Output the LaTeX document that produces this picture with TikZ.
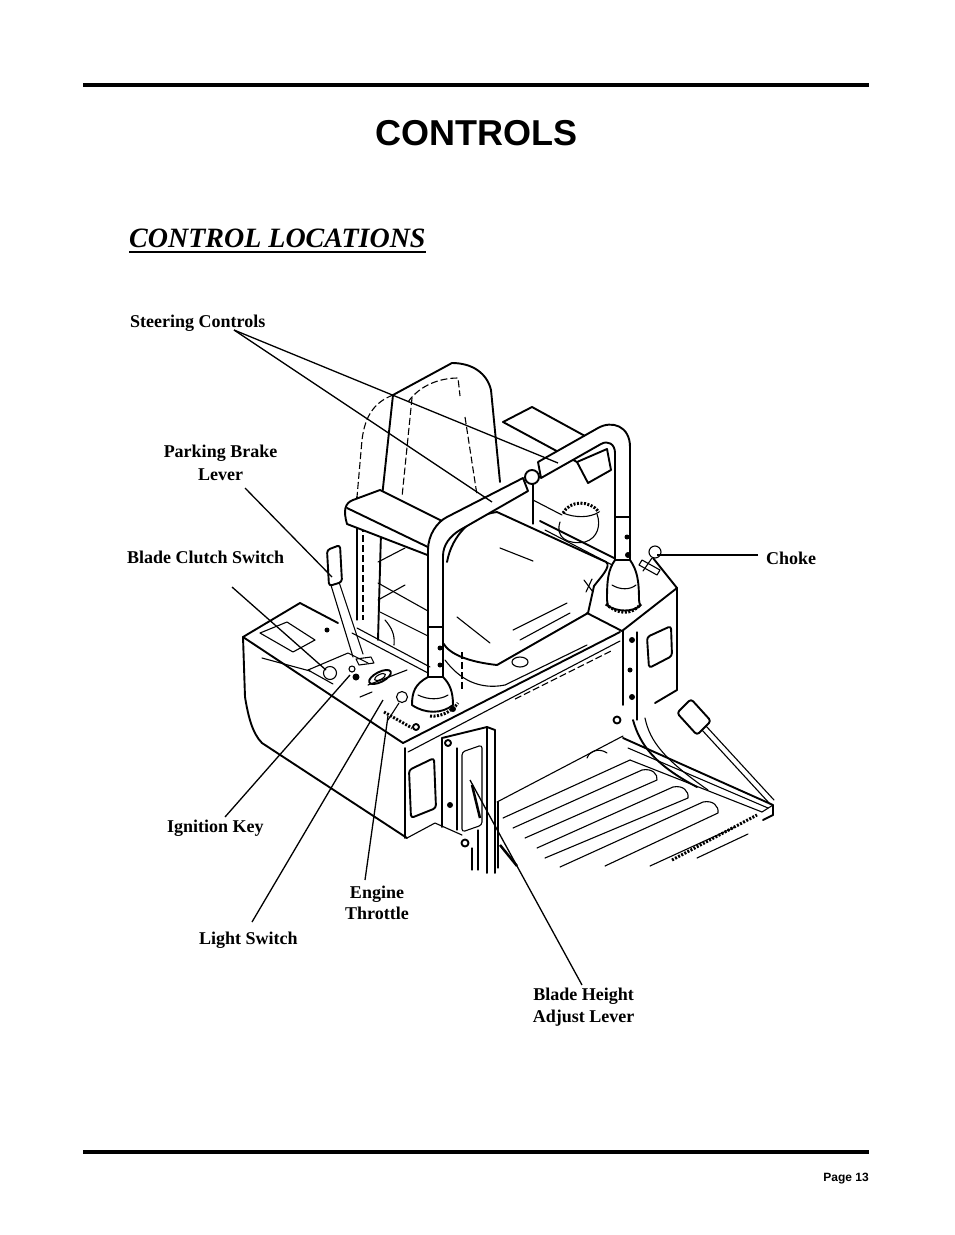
\documentclass[tikz,border=0pt]{standalone}
\usepackage{fontspec}
\setmainfont{Liberation Serif}
\newfontfamily\hsans{Liberation Sans}
\begin{document}
\begin{tikzpicture}[x=1pt,y=-1pt,
  ln/.style={line width=1.1pt, line cap=round, line join=round},
  tk/.style={line width=1.9pt, line cap=round, line join=round},
  hid/.style={line width=1.1pt, dash pattern=on 7pt off 3pt},
  hatch/.style={line width=3pt, dash pattern=on 2pt off 1.5pt},
  lead/.style={line width=1.3pt},
  lbl/.style={font=\fontsize{18}{22}\selectfont\bfseries, inner sep=0pt},
  wf/.style={fill=white}]
\useasboundingbox (0,0) rectangle (954,1235);
\fill[white] (0,0) rectangle (954,1235);
% rules
\draw[line width=3.5pt] (83,85) -- (869,85);
\draw[line width=3.8pt] (83,1152) -- (869,1152);
% titles
\node[font=\hsans\bfseries\fontsize{36}{40}\selectfont, anchor=base, inner sep=0pt] (title) at (476.5,145) {CONTROLS};
\node[font=\fontsize{28}{32}\selectfont\bfseries\itshape, anchor=base west, inner sep=0pt] (head) at (129,247) {CONTROL LOCATIONS};
\draw[line width=1.4pt] ([yshift=-5pt]head.base west) -- ([yshift=-5pt]head.base east);
\node[font=\hsans\bfseries\fontsize{12}{14}\selectfont, anchor=base east, inner sep=0pt] (page) at (869,1181) {Page 13};

% ---------- seat back ----------
\draw[tk] (382,497) -- (393,395) -- (452,363) .. controls (472,363) and (487,373) .. (491,390) -- (500,482);
\draw[hid] (393,395) .. controls (375,402) and (365,415) .. (362,440) -- (357,497);
\draw[hid] (412,398) -- (402,497);
\draw[hid] (465,417) -- (477,495);
\draw[hid] (408,402) .. controls (420,385) and (440,378) .. (458,378) -- (460,396);
\draw[tk] (382,497) -- (378,640);
\draw[ln] (357,497) -- (357,620);
\draw[hid] (363,525) -- (363,620);
% ---------- right armrest ----------
\draw[tk] (503,422) -- (532,407) -- (585,436);
\draw[tk] (503,422) -- (577,462);
\draw[tk,wf] (577,462) -- (607,449) -- (611,470) -- (588,483) -- cycle;
% rear frame and fuel cap
\draw[ln] (533,484) -- (533,524);
\draw[ln] (533,500) -- (562,515);
\draw[tk] (540,521) -- (622,562);
\draw[ln] (545,530) -- (620,569);
\draw[ln] (560,522) .. controls (555,537) and (567,545) .. (585,542) .. controls (598,538) and (601,525) .. (597,514);
\draw[hatch] (563,513) .. controls (570,500) and (590,500) .. (599,512);
\draw[ln] (563,513) .. controls (575,518) and (590,518) .. (599,512);
% ---------- seat cushion ----------
\fill[white] (447,562) .. controls (452,535) and (472,515) .. (497,512) -- (606,562) .. controls (612,566) and (600,578) .. (594,586) -- (588,613) -- (497,665) .. controls (470,662) and (450,655) .. (443,643) -- (443,562) -- cycle;
\draw[tk] (447,562) .. controls (452,535) and (472,515) .. (497,512) -- (606,562) .. controls (612,566) and (600,578) .. (594,586) -- (588,613) -- (497,665) .. controls (470,662) and (450,655) .. (443,643);
\draw[hid] (443,562) -- (443,643);
\draw[ln] (500,548) -- (533,561);
\draw[ln] (513,630) -- (567,603);
\draw[ln] (457,617) -- (490,643);
\draw[ln] (584,580) -- (593,592);
\draw[ln] (586,592) -- (592,579);
\draw[hid] (462,652) -- (462,690);
\draw[ln] (445,660) .. controls (460,680) and (480,690) .. (505,685) -- (587,645);
\draw[ln] (520,662) ellipse[x radius=8pt, y radius=5pt];
% ---------- left armrest ----------
\fill[white] (353,500) -- (380,490) -- (450,525) -- (432,550) -- (430,556) -- (347,524) .. controls (343,512) and (345,503) .. (353,500) -- cycle;
\draw[tk] (353,500) -- (380,490) -- (450,525);
\draw[tk] (347,508) -- (432,549);
\draw[tk] (347,524) -- (430,556);
\draw[tk] (353,500) .. controls (345,503) and (343,510) .. (347,524);
% frame below left armrest
\draw[ln] (378,562) -- (405,548);
\draw[ln] (378,583) -- (428,611);
\draw[ln] (378,600) -- (405,585);
\draw[ln] (380,612) -- (428,636);
\draw[ln] (385,620) .. controls (392,628) and (395,635) .. (394,645);
% ---------- right steering lever ----------
\draw[tk,wf] (630,560) -- (630,447) .. controls (630,426) and (612,420) .. (598,428) -- (538,462) -- (541,478) -- (601,444) .. controls (608,440) and (615,444) .. (615,453) -- (615,560) -- cycle;
\draw[ln] (615,517) -- (630,517);
\fill (627,537) circle[radius=2.5pt];
% ---------- left steering lever ----------
\draw[tk,wf] (428,677) -- (428,550) .. controls (428,535) and (437,522) .. (447,517) -- (523,478) -- (528,491) -- (460,530) .. controls (450,536) and (443,545) .. (443,556) -- (443,677) -- cycle;
\draw[ln] (428,627) -- (443,627);
\fill (440,648) circle[radius=2.5pt];
\fill (440,665) circle[radius=2.5pt];
\draw[tk,wf] (532,477) circle[radius=7pt];
% ---------- right console ----------
\draw[tk] (587,613) -- (622,631) -- (677,588) -- (653,558);
\draw[tk] (623,631) -- (623,705);
\draw[tk] (677,588) -- (677,690) -- (655,703);
\draw[tk, rounded corners=3pt] (647,637) -- (671,626) -- (672,656) -- (649,668) -- cycle;
\draw[ln] (637,632) -- (637,720);
\fill (632,640) circle[radius=3pt];
\fill (630,670) circle[radius=2.5pt];
\fill (632,697) circle[radius=3pt];
\draw[tk] (617,720) circle[radius=3.5pt];
\fill (628,555) circle[radius=3pt];
% right boot
\draw[tk,wf] (615,560) .. controls (608,570) and (607,580) .. (607,600) -- (608,606) .. controls (618,612) and (632,612) .. (640,606) -- (639,600) .. controls (639,580) and (637,570) .. (630,560) -- cycle;
\draw[hatch] (606,604) .. controls (618,615) and (632,615) .. (641,604);
\draw[ln] (612,585) .. controls (620,590) and (630,590) .. (636,585);
% choke
\draw[ln] (655,552) circle[radius=6pt];
\draw[ln] (652,558) -- (643,571);
\draw[ln] (642,560) -- (660,570) -- (657,575) -- (639,565) -- cycle;
% ---------- left console ----------
\draw[tk] (243,637) -- (300,603) -- (338,623);
\draw[tk] (243,637) -- (403,743);
\draw[ln] (262,658) -- (310,671);
\draw[tk] (243,637) -- (245,697) .. controls (248,715) and (252,733) .. (262,743) -- (407,838);
\draw[tk] (405,748) -- (405,838);
\draw[ln] (407,838) -- (435,823) -- (462,835);
\draw[ln] (260,633) -- (287,622) -- (315,640) -- (293,652) -- cycle;
\fill (327,630) circle[radius=2.5pt];
\draw[ln] (352,633) -- (428,673);
\draw[ln] (357,628) -- (430,667);
% control panel
\draw[ln] (308,670) -- (348,653) -- (368,663);
\draw[ln] (308,670) -- (333,684);
\draw[ln] (368,685) -- (407,670);
\draw[ln] (360,697) -- (372,692);
\draw[ln] (330,673) circle[radius=6.5pt];
\fill (356,677) circle[radius=3.5pt];
\draw[ln] (352,669) circle[radius=3pt];
\draw[tk] (380,677) ellipse[x radius=12pt, y radius=5pt, rotate=27];
\draw[ln] (380,677) ellipse[x radius=6pt, y radius=2.5pt, rotate=27];
\draw[ln] (356,659) -- (371,657) -- (374,663) -- (359,665) -- cycle;
% parking brake lever
\draw[ln] (330,582) -- (353,657);
\draw[ln] (339,582) -- (363,654);
\draw[tk,wf, rounded corners=3pt] (327,550) -- (340,545) -- (342,582) -- (329,586) -- cycle;
% throttle
\draw[ln] (402,697) circle[radius=5.5pt];
\draw[ln] (399,703) -- (388,720);
\draw[hatch] (384,712) -- (412,728);
\draw[tk] (416,727) circle[radius=3pt];
\fill (453,709) circle[radius=3pt];
% left boot
\draw[tk,wf] (428,677) .. controls (415,684) and (412,692) .. (412,705) .. controls (425,714) and (442,714) .. (453,705) .. controls (453,692) and (450,684) .. (443,677) -- cycle;
\draw[hatch] (430,716) .. controls (442,717) and (452,711) .. (458,703);
\draw[ln] (418,695) .. controls (428,700) and (440,700) .. (448,695);
% long front edge of body
\draw[tk] (403,743) -- (620,632);
\draw[ln] (408,752) -- (620,641);
\draw[hid] (515,699) -- (613,650);
\draw[ln] (520,640) -- (570,613);
% left tower handle
\draw[tk, rounded corners=3pt] (409,770) -- (434,758) -- (436,808) -- (411,818) -- cycle;
% ---------- front frame plates ----------
\draw[tk] (442,738) -- (487,727) -- (495,730);
\draw[tk] (442,738) -- (442,827);
\draw[ln] (457,748) -- (457,830);
\draw[tk] (487,727) -- (487,873);
\draw[tk] (495,730) -- (495,873);
\draw[ln, rounded corners=3pt] (462,752) -- (482,745) -- (482,825) -- (462,832) -- cycle;
\draw[tk] (448,743) circle[radius=3pt];
\fill (450,805) circle[radius=3pt];
\draw[tk] (465,843) circle[radius=3.5pt];
\draw[ln] (478,830) -- (478,870);
\draw[ln] (472,848) -- (472,870);
\draw[line width=2.5pt] (472,785) -- (480,818);
\draw[line width=2.5pt] (500,845) -- (517,866);
% ---------- footplate ----------
\draw[ln] (497,802) -- (623,736);
\draw[ln] (498,802) -- (498,868);
\draw[tk] (623,738) -- (773,805) -- (773,815) -- (763,820);
\draw[ln] (630,760) -- (762,812) -- (773,805);
\draw[ln] (628,748) -- (768,808);
\draw[ln] (587,758) .. controls (590,750) and (600,748) .. (607,753);
\draw[ln] (503,818) -- (630,760);
\draw[ln] (513,828) -- (642,770) .. controls (652,768) and (658,774) .. (657,780) -- (525,838);
\draw[ln] (537,848) -- (673,787) .. controls (683,785) and (689,791) .. (688,798) -- (545,858);
\draw[ln] (560,867) -- (703,802) .. controls (713,800) and (719,806) .. (718,813) -- (605,866);
\draw[ln] (650,866) -- (735,827);
\draw[hatch] (672,860) -- (757,815);
\draw[ln] (697,858) -- (748,834);
% strut and rod
\draw[ln] (706,726) -- (774,800);
\draw[ln] (702,730) -- (770,804);
\draw[tk,wf, rounded corners=3pt] (691,699) -- (711,721) -- (697,735) -- (677,713) -- cycle;
\draw[tk] (633,720) .. controls (640,745) and (655,765) .. (697,787);
\draw[ln] (645,718) .. controls (650,742) and (665,760) .. (708,790);

% ---------- labels ----------
\node[lbl, anchor=base west] (steer) at (130,327) {Steering Controls};
\node[lbl, align=center, font=\fontsize{18}{23}\selectfont\bfseries] (park) at (220.5,462.4) {Parking Brake\\Lever};
\node[lbl, anchor=base west] (clutch) at (127,563) {Blade Clutch Switch};
\node[lbl, anchor=base west] (choke) at (766,564) {Choke};
\node[lbl, anchor=base west] (ign) at (167,832) {Ignition Key};
\node[lbl, align=center, font=\fontsize{18}{21}\selectfont\bfseries] (thr) at (377,902.9) {Engine\\Throttle};
\node[lbl, anchor=base west] (light) at (199,944) {Light Switch};
\node[lbl, align=center, font=\fontsize{18}{22}\selectfont\bfseries] (bha) at (583.5,1006.8) {Blade Height\\Adjust Lever};

% leader ends
\coordinate (steerO) at (234,330);
\coordinate (steerA) at (558,463);
\coordinate (steerB) at (492,502);
\coordinate (parkO) at (245,488);
\coordinate (parkA) at (332,577);
\coordinate (clutchO) at (232,587);
\coordinate (clutchA) at (326,670);
\coordinate (ignO) at (225,817);
\coordinate (ignA) at (350,675);
\coordinate (lightO) at (252,922);
\coordinate (lightA) at (383,700);
\coordinate (thrO) at (365,880);
\coordinate (thrA) at (388,716);
\coordinate (chokeO) at (758,555);
\coordinate (chokeA) at (657,555);
\coordinate (bhaO) at (582,985);
\coordinate (bhaA) at (470,780);
\draw[lead] (steerO) -- (steerA);
\draw[lead] (steerO) -- (steerB);
\draw[lead] (parkO) -- (parkA);
\draw[lead] (clutchO) -- (clutchA);
\draw[lead] (ignO) -- (ignA);
\draw[lead] (lightO) -- (lightA);
\draw[lead] (thrO) -- (thrA);
\draw[lead] (chokeO) -- (chokeA);
\draw[lead] (bhaO) -- (bhaA);
\end{tikzpicture}
\end{document}
